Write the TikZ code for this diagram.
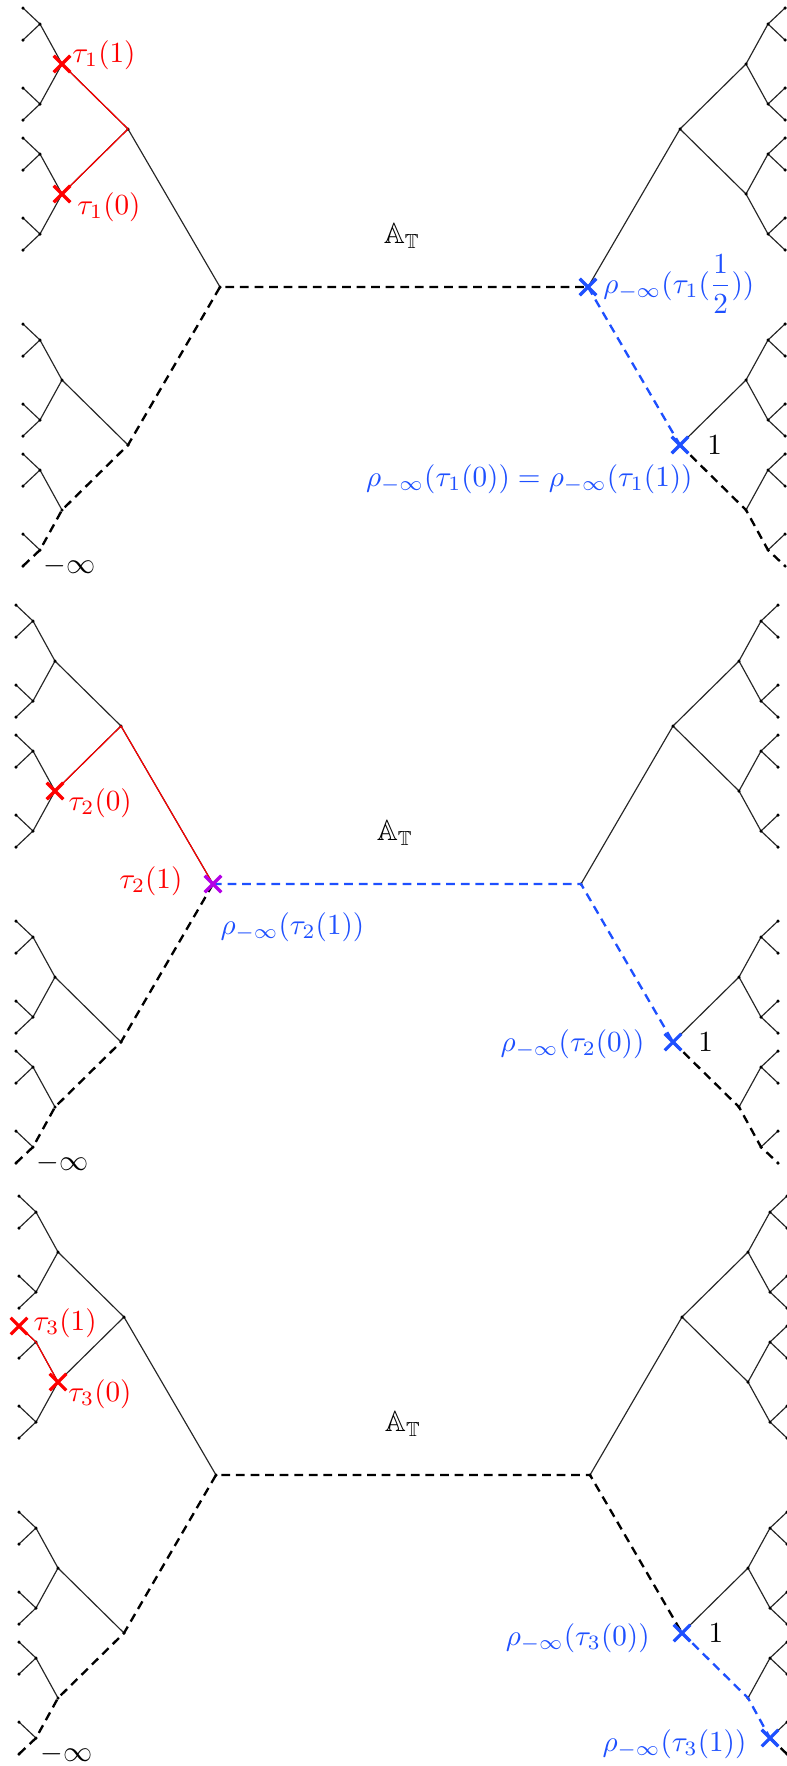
\documentclass[tikz,border=0pt]{standalone}
\usepackage{amsmath,amssymb}
\usetikzlibrary{positioning,shapes.misc}

\definecolor{rhoblue}{RGB}{30,80,255}
\definecolor{taupurple}{RGB}{180,0,230}

% binary tree of depth 4 hanging off a vertex of the apartment
% #1 root coordinate, #2 side (-1 left, 1 right); the all-d branch is the apartment
\newcommand{\halftree}[2]{%
  \foreach \a/\sa in {u/-1,d/1} {
    \path (#1) ++(#2*92,\sa*158) coordinate (#1\a);
    \ifnum\sa<1 \draw[treeline] (#1) -- (#1\a); \fi
    \foreach \b/\sb in {u/-1,d/1} {
      \path (#1\a) ++(#2*66,\sb*65) coordinate (#1\a\b);
      \pgfmathtruncatemacro\k{\sa+\sb}
      \ifnum\k<2 \draw[treeline] (#1\a) -- (#1\a\b); \fi
      \foreach \c/\sc in {u/-1,d/1} {
        \path (#1\a\b) ++(#2*22,\sc*40) coordinate (#1\a\b\c);
        \pgfmathtruncatemacro\k{\sa+\sb+\sc}
        \ifnum\k<3 \draw[treeline] (#1\a\b) -- (#1\a\b\c); \fi
        \foreach \e/\se in {u/-1,d/1} {
          \path (#1\a\b\c) ++(#2*17,\se*16) coordinate (#1\a\b\c\e);
          \pgfmathtruncatemacro\k{\sa+\sb+\sc+\se}
          \ifnum\k<4 \draw[treeline] (#1\a\b\c) -- (#1\a\b\c\e); \fi
          \fill (#1\a\b\c\e) circle[radius=0.6pt];
        }
        \fill (#1\a\b\c) circle[radius=0.6pt];
      }
      \fill (#1\a\b) circle[radius=0.6pt];
    }
    \fill (#1\a) circle[radius=0.6pt];
  }
  \fill (#1) circle[radius=0.6pt];
}

\begin{document}
\begin{tikzpicture}[
    x=0.343pt, y=-0.343pt,
    treeline/.style={line width=0.4pt,black!85},
    apt/.style={line width=0.8pt,dash pattern=on 3pt off 2pt},
    rhoapt/.style={apt,draw=rhoblue},
    taupath/.style={line width=0.4pt,red},
    crossmk/.style={cross out,draw,line width=1.1pt,minimum size=4.6pt,inner sep=0pt},
    taumark/.style={crossmk,red},
    rhomark/.style={crossmk,rhoblue},
    lbl/.style={inner sep=0pt},
    taulbl/.style={lbl,text=red},
    rholbl/.style={lbl,text=rhoblue}
]
    \useasboundingbox (0,0) rectangle (787,1766);

    % first panel
    \coordinate (a-l) at (220,287);
    \coordinate (a-r) at (588,287);
    \halftree{a-l}{-1}
    \halftree{a-r}{1}
    \draw[apt] (a-ldddd) -- (a-lddd) -- (a-ldd) -- (a-ld) -- (a-l) -- (a-r);
    \draw[rhoapt] (a-r) -- (a-rd);
    \draw[apt] (a-rd) -- (a-rdd) -- (a-rddd) -- (a-rdddd);
    \draw[taupath] (a-luu) -- (a-lu) -- (a-lud);
    \node[taumark] (a-x1) at (a-luu) {};
    \node[taumark] (a-x0) at (a-lud) {};
    \node[rhomark] (a-xh) at (a-r) {};
    \node[rhomark] (a-xr) at (a-rd) {};
    \node[taulbl,right=3.4pt of a-luu,yshift=3.1pt] (a-t1) {$\tau_1(1)$};
    \node[taulbl,right=5.1pt of a-lud,yshift=-4.5pt] (a-t0) {$\tau_1(0)$};
    \node[lbl] (a-apt) at (402,236) {$\mathbb{A}_{\mathbb{T}}$};
    \node[rholbl,right=5.1pt of a-r,yshift=1.1pt] (a-rh) {$\rho_{-\infty}(\tau_1(\dfrac{1}{2}))$};
    \node[lbl,right=9.2pt of a-rd] (a-one) {$1$};
    \node[rholbl,below=6.5pt of a-rd,anchor=north east,xshift=4.5pt] (a-rr) {$\rho_{-\infty}(\tau_1(0))=\rho_{-\infty}(\tau_1(1))$};
    \node[lbl,right=6.9pt of a-ldddd] (a-inf) {$-\infty$};

    % second panel
    \coordinate (b-l) at (213,884);
    \coordinate (b-r) at (581,884);
    \halftree{b-l}{-1}
    \halftree{b-r}{1}
    \draw[apt] (b-ldddd) -- (b-lddd) -- (b-ldd) -- (b-ld) -- (b-l);
    \draw[rhoapt] (b-l) -- (b-r) -- (b-rd);
    \draw[apt] (b-rd) -- (b-rdd) -- (b-rddd) -- (b-rdddd);
    \draw[taupath] (b-lud) -- (b-lu) -- (b-l);
    \node[taumark] (b-x0) at (b-lud) {};
    \node[crossmk,taupurple] (b-x1) at (b-l) {};
    \node[rhomark] (b-xr) at (b-rd) {};
    \node[taulbl,right=4.5pt of b-lud,yshift=-4.1pt] (b-t0) {$\tau_2(0)$};
    \node[taulbl,left=10.3pt of b-l,yshift=1.1pt] (b-t1) {$\tau_2(1)$};
    \node[rholbl,below=9.6pt of b-l,anchor=north west,xshift=2.4pt] (b-rl) {$\rho_{-\infty}(\tau_2(1))$};
    \node[lbl] (b-apt) at (395,833) {$\mathbb{A}_{\mathbb{T}}$};
    \node[lbl,right=8.5pt of b-rd] (b-one) {$1$};
    \node[rholbl,left=9.6pt of b-rd,yshift=-0.6pt] (b-rr) {$\rho_{-\infty}(\tau_2(0))$};
    \node[lbl,right=6.9pt of b-ldddd] (b-inf) {$-\infty$};

    % third panel
    \coordinate (c-l) at (216,1475);
    \coordinate (c-r) at (590,1475);
    \halftree{c-l}{-1}
    \halftree{c-r}{1}
    \draw[apt] (c-ldddd) -- (c-lddd) -- (c-ldd) -- (c-ld) -- (c-l) -- (c-r) -- (c-rd);
    \draw[rhoapt] (c-rd) -- (c-rdd) -- (c-rddd);
    \draw[apt] (c-rddd) -- (c-rdddd);
    \draw[taupath] (c-luduu) -- (c-ludu) -- (c-lud);
    \node[taumark] (c-x1) at (c-luduu) {};
    \node[taumark] (c-x0) at (c-lud) {};
    \node[rhomark] (c-xr) at (c-rd) {};
    \node[rhomark] (c-xe) at (c-rddd) {};
    \node[taulbl,right=4.8pt of c-luduu,yshift=1.1pt] (c-t1) {$\tau_3(1)$};
    \node[taulbl,right=3.4pt of c-lud,yshift=-4.1pt] (c-t0) {$\tau_3(0)$};
    \node[lbl] (c-apt) at (403,1424) {$\mathbb{A}_{\mathbb{T}}$};
    \node[lbl,right=8.9pt of c-rd] (c-one) {$1$};
    \node[rholbl,left=10.9pt of c-rd,yshift=-1.7pt] (c-rr) {$\rho_{-\infty}(\tau_3(0))$};
    \node[rholbl,left=7.9pt of c-rddd,yshift=-2pt] (c-re) {$\rho_{-\infty}(\tau_3(1))$};
    \node[lbl,right=7.2pt of c-ldddd] (c-inf) {$-\infty$};
\end{tikzpicture}
\end{document}
